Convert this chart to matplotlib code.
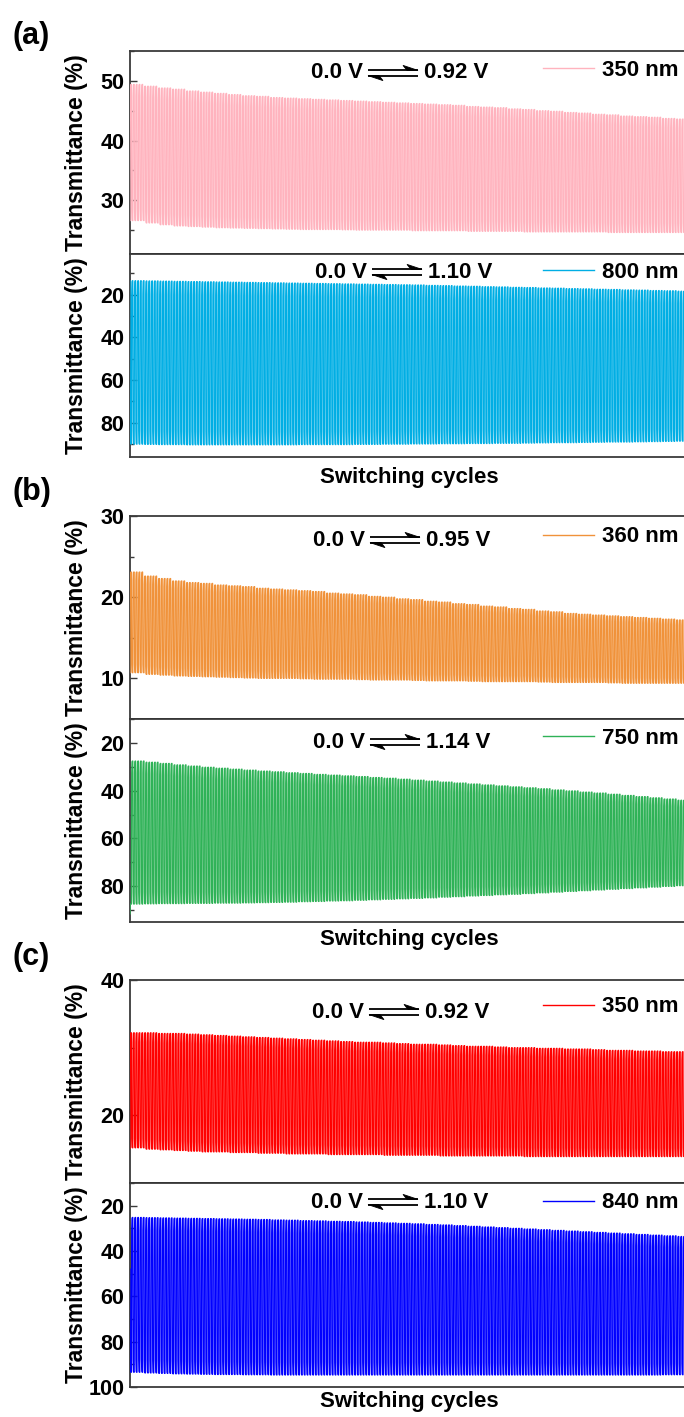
import numpy as np
import matplotlib
matplotlib.use("Agg")
import matplotlib.pyplot as plt
from matplotlib.lines import Line2D
from matplotlib.patches import Polygon

plt.rcParams["font.family"] = ["Liberation Sans", "DejaVu Sans"]
plt.rcParams["font.weight"] = "bold"

# ---------------------------------------------------------------------------
# Switching data: transmittance levels (%) for blocks of 5 consecutive cycles
# (bleached = high T, colored = low T), 40 blocks = 200 switching cycles.
# ---------------------------------------------------------------------------
CYCLES_PER_BLOCK = 5

# (a) 350 nm, 0.0 V <-> 0.92 V
a1_high = [49.4, 49.1, 48.8, 48.6, 48.3, 48.1, 47.9, 47.7, 47.5, 47.4,
           47.2, 47.1, 47.0, 46.9, 46.8, 46.7, 46.6, 46.5, 46.4, 46.3,
           46.2, 46.1, 46.0, 45.9, 45.7, 45.6, 45.5, 45.3, 45.2, 45.0,
           44.9, 44.7, 44.6, 44.4, 44.3, 44.1, 44.0, 43.9, 43.7, 43.6]
a1_low = [26.6, 26.2, 25.9, 25.7, 25.6, 25.5, 25.4, 25.35, 25.3, 25.25,
          25.2, 25.15, 25.1, 25.1, 25.1, 25.05, 25.0, 25.0, 25.0, 25.0,
          24.9, 24.9, 24.9, 24.9, 24.8, 24.8, 24.8, 24.8, 24.7, 24.7,
          24.7, 24.7, 24.7, 24.7, 24.6, 24.6, 24.6, 24.6, 24.6, 24.6]
# (a) 800 nm, 0.0 V <-> 1.10 V
a2_high = [90.0, 90.1, 90.2, 90.2, 90.3, 90.3, 90.3, 90.3, 90.3, 90.3,
           90.3, 90.3, 90.2, 90.2, 90.2, 90.2, 90.1, 90.1, 90.0, 90.0,
           89.9, 89.9, 89.8, 89.8, 89.7, 89.7, 89.6, 89.6, 89.5, 89.4,
           89.3, 89.3, 89.2, 89.1, 89.0, 89.0, 88.9, 88.8, 88.7, 88.6]
a2_low = [13.5, 13.6, 13.7, 13.8, 13.9, 14.0, 14.1, 14.2, 14.3, 14.4,
          14.5, 14.6, 14.7, 14.8, 14.9, 15.0, 15.1, 15.2, 15.3, 15.4,
          15.5, 15.7, 15.8, 16.0, 16.1, 16.3, 16.4, 16.6, 16.7, 16.9,
          17.0, 17.2, 17.3, 17.5, 17.6, 17.8, 17.9, 18.1, 18.2, 18.4]
# (b) 360 nm, 0.0 V <-> 0.95 V
b1_high = [23.1, 22.6, 22.3, 22.0, 21.8, 21.7, 21.5, 21.4, 21.3, 21.1,
           21.0, 20.9, 20.8, 20.7, 20.5, 20.4, 20.3, 20.1, 20.0, 19.8,
           19.7, 19.5, 19.4, 19.2, 19.1, 18.9, 18.8, 18.6, 18.5, 18.3,
           18.2, 18.0, 17.9, 17.8, 17.7, 17.6, 17.5, 17.4, 17.3, 17.2]
b1_low = [10.7, 10.5, 10.4, 10.3, 10.25, 10.2, 10.15, 10.1, 10.05, 10.0,
          10.0, 10.0, 9.95, 9.9, 9.9, 9.9, 9.85, 9.8, 9.8, 9.8,
          9.75, 9.7, 9.7, 9.7, 9.65, 9.6, 9.6, 9.6, 9.6, 9.55,
          9.5, 9.5, 9.5, 9.5, 9.45, 9.4, 9.4, 9.4, 9.4, 9.4]
# (b) 750 nm, 0.0 V <-> 1.14 V
b2_high = [87.5, 87.4, 87.3, 87.3, 87.2, 87.2, 87.1, 87.1, 87.0, 86.9,
           86.8, 86.7, 86.5, 86.4, 86.2, 86.1, 85.9, 85.7, 85.5, 85.3,
           85.1, 84.9, 84.6, 84.4, 84.1, 83.9, 83.6, 83.4, 83.1, 82.8,
           82.5, 82.2, 81.9, 81.6, 81.3, 81.0, 80.7, 80.4, 80.1, 79.8]
b2_low = [27.6, 28.1, 28.6, 29.2, 29.7, 30.2, 30.6, 31.0, 31.4, 31.8,
          32.1, 32.5, 32.8, 33.2, 33.5, 33.8, 34.1, 34.5, 34.8, 35.2,
          35.6, 36.0, 36.4, 36.8, 37.2, 37.6, 38.0, 38.4, 38.8, 39.2,
          39.7, 40.1, 40.6, 41.0, 41.5, 42.0, 42.5, 43.0, 43.5, 44.0]
# (c) 350 nm, 0.0 V <-> 0.92 V
c1_high = [32.2, 32.2, 32.1, 32.1, 32.0, 31.9, 31.8, 31.7, 31.6, 31.5,
           31.4, 31.3, 31.2, 31.1, 31.0, 30.9, 30.8, 30.8, 30.7, 30.6,
           30.5, 30.5, 30.4, 30.3, 30.2, 30.2, 30.1, 30.0, 30.0, 29.9,
           29.9, 29.8, 29.8, 29.7, 29.6, 29.6, 29.5, 29.5, 29.4, 29.4]
c1_low = [15.2, 15.0, 14.9, 14.8, 14.7, 14.6, 14.6, 14.5, 14.5, 14.4,
          14.4, 14.3, 14.3, 14.3, 14.2, 14.2, 14.2, 14.2, 14.1, 14.1,
          14.1, 14.1, 14.0, 14.0, 14.0, 14.0, 14.0, 14.0, 13.9, 13.9,
          13.9, 13.9, 13.9, 13.9, 13.9, 13.9, 13.9, 13.9, 13.9, 13.9]
# (c) 840 nm, 0.0 V <-> 1.10 V
c2_high = [93.5, 93.8, 94.0, 94.2, 94.3, 94.4, 94.5, 94.5, 94.6, 94.6,
           94.7, 94.7, 94.7, 94.7, 94.7, 94.7, 94.7, 94.7, 94.7, 94.7,
           94.7, 94.7, 94.7, 94.7, 94.7, 94.7, 94.7, 94.7, 94.7, 94.7,
           94.7, 94.7, 94.7, 94.7, 94.7, 94.7, 94.7, 94.7, 94.6, 94.6]
c2_low = [25.2, 25.3, 25.4, 25.5, 25.6, 25.7, 25.8, 25.9, 26.0, 26.1,
          26.3, 26.4, 26.6, 26.7, 26.9, 27.0, 27.2, 27.4, 27.6, 27.8,
          28.0, 28.3, 28.5, 28.8, 29.1, 29.4, 29.7, 30.0, 30.3, 30.6,
          30.9, 31.2, 31.5, 31.8, 32.1, 32.4, 32.7, 33.0, 33.3, 33.6]

# transmittance at the very first recorded point of each run
start_values = [26.6, 13.5, 10.7, 91.6, 15.1, 48.0]

wavelengths = ["350 nm", "800 nm", "360 nm", "750 nm", "350 nm", "840 nm"]
voltages = ["0.92 V", "1.10 V", "0.95 V", "1.14 V", "0.92 V", "1.10 V"]
colors = ["#FFB3BE", "#00AEE4", "#F0923A", "#2FB257", "#FF0000", "#0000FF"]
panel_tags = ["(a)", "(b)", "(c)"]

highs = [a1_high, a2_high, b1_high, b2_high, c1_high, c2_high]
lows = [a1_low, a2_low, b1_low, b2_low, c1_low, c2_low]

# axis settings for each trace: limits, major and minor tick steps
ylims = [(21, 55), (96, 1), (5, 30), (95, 10), (10, 40), (100, 10)]
major_steps = [10, 20, 10, 20, 20, 20]
minor_steps = [5, 10, 5, 10, 10, 10]


def switching_trace(high, low, start, samples=10, tau=0.04):
    """Step-potential response: each cycle relaxes to the bleached level,
    then to the colored level, with first-order kinetics."""
    hi = np.repeat(high, CYCLES_PER_BLOCK)
    lo = np.repeat(low, CYCLES_PER_BLOCK)
    t = np.linspace(0.0, 0.5, samples, endpoint=False)
    xs, ys = [], []
    prev = start
    for i in range(len(hi)):
        for k, target in enumerate((hi[i], lo[i])):
            seg = target + (prev - target) * np.exp(-t / tau)
            xs.append(i + 0.5 * k + t)
            ys.append(seg)
            prev = seg[-1]
    return np.concatenate(xs), np.concatenate(ys)


N_CYCLES = CYCLES_PER_BLOCK * len(a1_high)

W, H = 684, 1417
fig = plt.figure(figsize=(W / 100, H / 100), dpi=100)


def fx(px):
    return px / W


def fy(py):
    return 1.0 - py / H


AX_LEFT, AX_RIGHT = 130, 690
# (top, bottom) pixel rows of each sub-axes
ax_rows = [(51, 254), (254, 457), (516, 719), (719, 922), (980, 1183), (1183, 1387)]
label_rows = [73, 272, 540, 742, 1012, 1202]
legend_rows = [70, 272, 537, 738, 1007, 1203]
arrow_spans = [(368, 418), (372, 422), (370, 420), (370, 420), (369, 419), (368, 418)]
xlabel_rows = [477, 940, 1402]
tag_rows = [36, 492, 957]

SPINE = "#3a3a3a"


def harpoons(x0, x1, yc):
    """Equilibrium double-harpoon drawn in figure pixels."""
    yu, yl = yc - 2.6, yc + 2.6
    kw = dict(transform=fig.transFigure, color="black", lw=1.3,
              solid_capstyle="butt")
    fig.add_artist(Line2D([fx(x0), fx(x1)], [fy(yu), fy(yu)], **kw))
    fig.add_artist(Line2D([fx(x0), fx(x1)], [fy(yl), fy(yl)], **kw))
    up = [(fx(x1), fy(yu)), (fx(x1 - 15), fy(yu - 5)), (fx(x1 - 11), fy(yu))]
    dn = [(fx(x0), fy(yl)), (fx(x0 + 15), fy(yl + 5)), (fx(x0 + 11), fy(yl))]
    for pts in (up, dn):
        fig.add_artist(Polygon(pts, closed=True, transform=fig.transFigure,
                               facecolor="black", edgecolor="black", lw=0.6))


for i in range(6):
    top, bot = ax_rows[i]
    ax = fig.add_axes([fx(AX_LEFT), fy(bot), fx(AX_RIGHT - AX_LEFT),
                       (bot - top) / H])
    x, y = switching_trace(highs[i], lows[i], start_values[i])
    ax.plot(x, y, color=colors[i], lw=0.9, zorder=3, label=wavelengths[i])
    ax.set_xlim(0, N_CYCLES)
    ax.set_ylim(*ylims[i])
    ax.yaxis.set_major_locator(matplotlib.ticker.MultipleLocator(major_steps[i]))
    ax.yaxis.set_minor_locator(matplotlib.ticker.MultipleLocator(minor_steps[i]))
    ax.set_xticks([])
    ax.tick_params(axis="y", which="both", direction="in", width=1.0,
                   color=SPINE, labelsize=15.5, pad=4)
    ax.tick_params(axis="y", which="major", length=5)
    ax.tick_params(axis="y", which="minor", length=3)
    for lab in ax.get_yticklabels():
        lab.set_fontweight("bold")
    for name, sp in ax.spines.items():
        sp.set_color(SPINE if name != "bottom" or i % 2 == 1 else "black")
        sp.set_linewidth(1.3)

    # ylabel
    fig.text(fx(77), fy((top + bot) / 2), "Transmittance (%)", rotation=90,
             ha="center", va="center", fontsize=16.5, fontweight="bold")

    # potential step annotation
    x0, x1 = arrow_spans[i]
    yc = label_rows[i]
    fig.text(fx(x0 - 5), fy(yc), "0.0 V", ha="right", va="center",
             fontsize=16, fontweight="bold")
    fig.text(fx(x1 + 6), fy(yc), voltages[i], ha="left", va="center",
             fontsize=16, fontweight="bold")
    harpoons(x0, x1, yc)

    # wavelength legend
    leg = ax.legend(loc="center left",
                    bbox_to_anchor=(fx(543), fy(legend_rows[i])),
                    bbox_transform=fig.transFigure, frameon=False,
                    handlelength=51 / 22.2, handletextpad=8 / 22.2,
                    borderpad=0, borderaxespad=0,
                    prop=dict(size=16, weight="bold"))
    for h in leg.get_lines():
        h.set_linewidth(1.0)

for j in range(3):
    fig.text(fx((AX_LEFT + 688) / 2), fy(xlabel_rows[j]), "Switching cycles",
             ha="center", va="center", fontsize=16, fontweight="bold")
    fig.text(fx(13), fy(tag_rows[j]), panel_tags[j], ha="left", va="center",
             fontsize=22, fontweight="bold")

fig.savefig("out.png", dpi=100)
